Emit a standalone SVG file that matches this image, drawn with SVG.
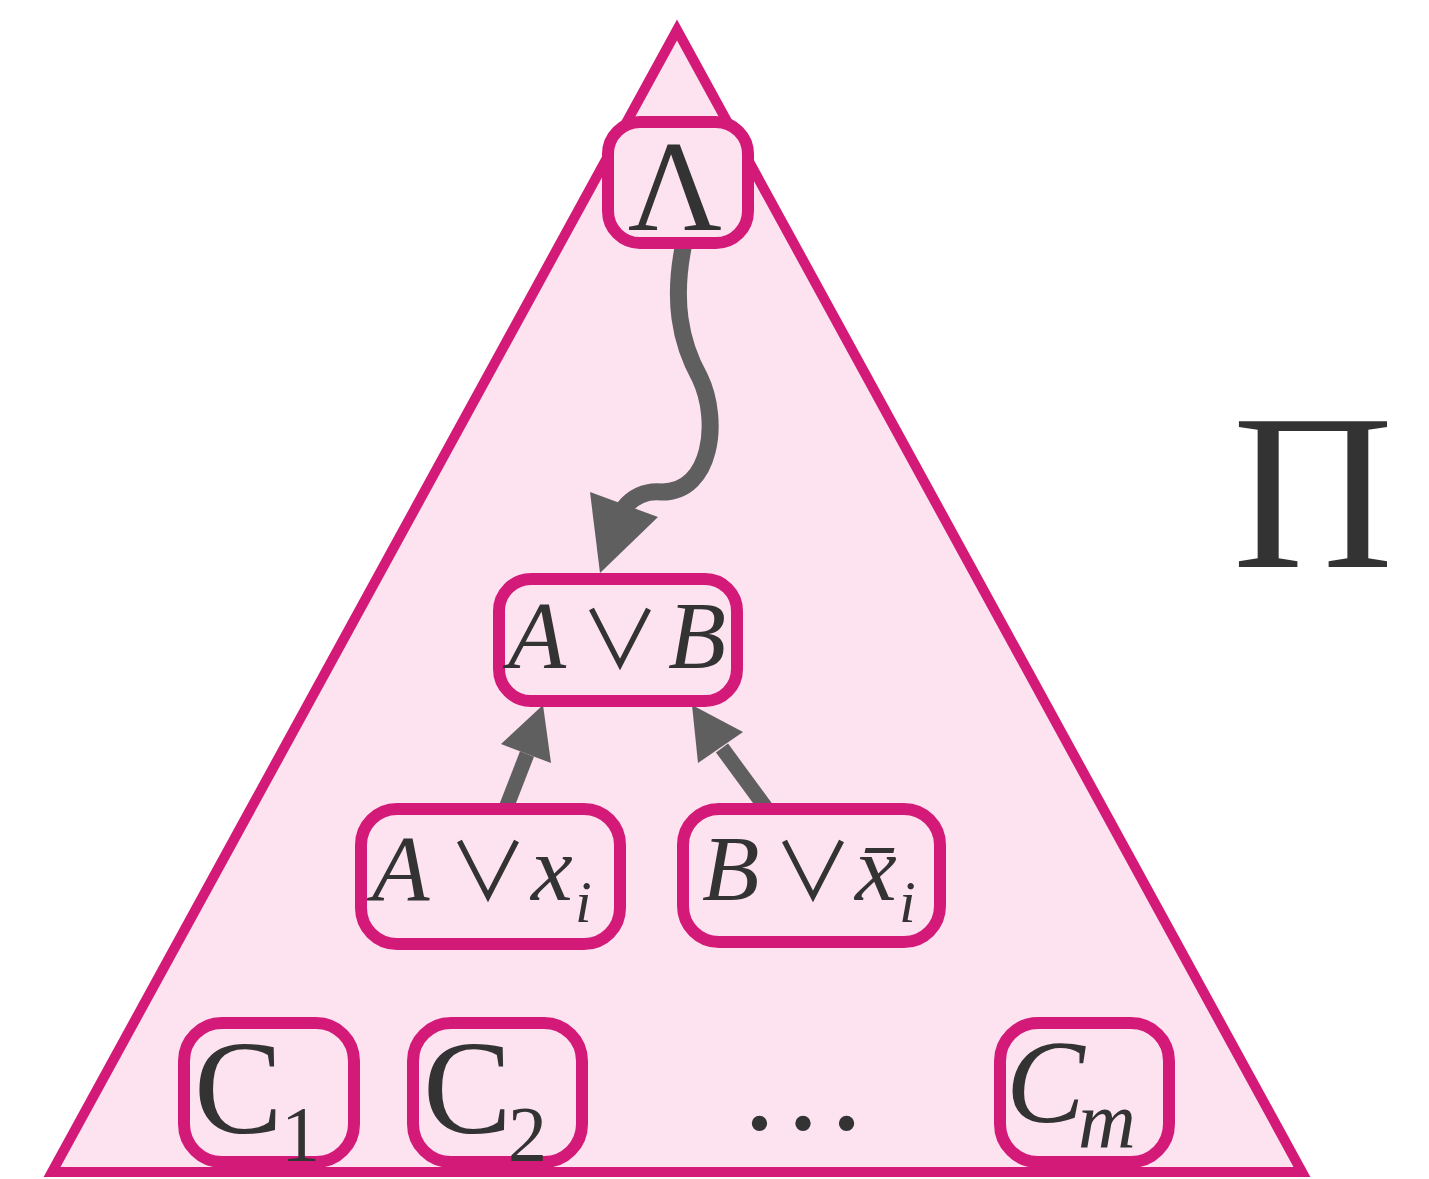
<svg xmlns="http://www.w3.org/2000/svg" width="1429" height="1179" viewBox="0 0 1429 1179">
<style>
.tri{fill:#fde2ef;stroke:#d31a79;stroke-width:10;stroke-linejoin:miter}
.node{fill:#fde2ef;stroke:#d31a79;stroke-width:12}
.t{font-family:"Liberation Serif","DejaVu Serif",serif;fill:#333333}
.it{font-style:italic}
.op{font-family:"Noto Sans CJK JP","DejaVu Serif",sans-serif;font-style:normal}
.edge{fill:none;stroke:#5f5f5f;stroke-width:15}
.curve{stroke-width:17}
.head{fill:#5f5f5f}
</style>
<rect width="1429" height="1179" fill="#ffffff"/>
<g id="proof">
<polygon class="tri" points="677,30 52,1172 1302,1172"/>
</g>
<g id="connectors">
<path class="edge curve" d="M684 243 C672 300 680 342 700 378 C720 420 712 492 662 492 C645 490 632 498 624 508"/>
<polygon class="head" points="590,492 658,517 600,573"/>
<line class="edge" x1="506" y1="808" x2="527" y2="754"/>
<polygon class="head" points="501,744 551,763 543,705"/>
<line class="edge" x1="766" y1="808" x2="722" y2="748"/>
<polygon class="head" points="743,732 698,763 692,705"/>
</g>
<g id="n-top">
<rect class="node" x="608" y="122" width="140" height="121" rx="32"/>
<text class="t" x="675" y="230" font-size="130" text-anchor="middle">Λ</text>
</g>
<g id="n-AvB">
<rect class="node" x="499" y="579" width="238" height="122" rx="32"/>
<text class="t" y="668" font-size="95"><tspan class="it" x="508">A</tspan><tspan class="op" x="580" font-size="80">∨</tspan><tspan class="it" x="668">B</tspan></text>
</g>
<g id="n-Axi">
<rect class="node" x="361" y="809" width="259" height="135" rx="36"/>
<text class="t" y="900" font-size="94"><tspan class="it" x="372">A</tspan><tspan class="op" x="448" font-size="80">∨</tspan><tspan class="it" x="531">x</tspan><tspan class="it" x="575" y="922" font-size="60">i</tspan></text>
</g>
<g id="n-Bxi">
<rect class="node" x="683" y="809" width="257" height="133" rx="36"/>
<text class="t" y="900" font-size="94"><tspan class="it" x="702">B</tspan><tspan class="op" x="773" font-size="80">∨</tspan><tspan class="it" x="855">x̄</tspan><tspan class="it" x="899" y="922" font-size="60">i</tspan></text>
</g>
<g id="n-C1">
<rect class="node" x="184" y="1023" width="170" height="139" rx="38"/>
<text class="t" y="1133" font-size="133"><tspan x="194">C</tspan><tspan x="281" y="1160" font-size="78">1</tspan></text>
</g>
<g id="n-C2">
<rect class="node" x="413" y="1023" width="169" height="139" rx="38"/>
<text class="t" y="1133" font-size="133"><tspan x="423">C</tspan><tspan x="508" y="1160" font-size="78">2</tspan></text>
</g>
<g id="dots">
<text class="t" x="738" y="1129" font-size="130">…</text>
</g>
<g id="n-Cm">
<rect class="node" x="1000" y="1023" width="169" height="139" rx="38"/>
<text class="t it" y="1122" font-size="118"><tspan x="1006">C</tspan><tspan x="1078" y="1147" font-size="80">m</tspan></text>
</g>
<g id="label-Pi">
<text class="t" x="1313" y="567" font-size="223" text-anchor="middle">Π</text>
</g>
</svg>
